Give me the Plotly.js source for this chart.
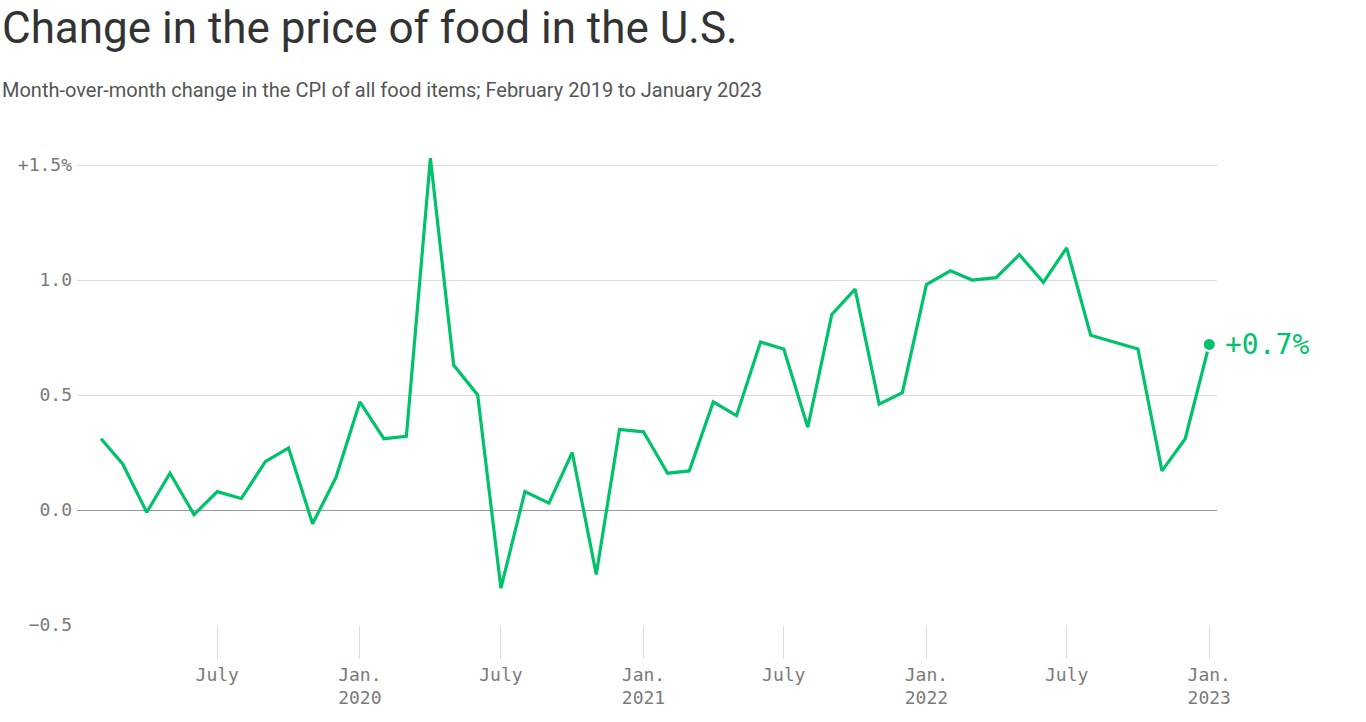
<!DOCTYPE html>
<html>
<head>
<meta charset="utf-8">
<script src="https://cdn.plot.ly/plotly-3.0.1.min.js"></script>
<style>
html,body{margin:0;padding:0;background:#fff;}
#chart{width:1366px;height:722px;}
</style>
</head>
<body>
<div id="chart"></div>
<script>
const months = [
  '2019-02-01','2019-03-01','2019-04-01','2019-05-01','2019-06-01','2019-07-01','2019-08-01','2019-09-01','2019-10-01','2019-11-01','2019-12-01',
  '2020-01-01','2020-02-01','2020-03-01','2020-04-01','2020-05-01','2020-06-01','2020-07-01','2020-08-01','2020-09-01','2020-10-01','2020-11-01','2020-12-01',
  '2021-01-01','2021-02-01','2021-03-01','2021-04-01','2021-05-01','2021-06-01','2021-07-01','2021-08-01','2021-09-01','2021-10-01','2021-11-01','2021-12-01',
  '2022-01-01','2022-02-01','2022-03-01','2022-04-01','2022-05-01','2022-06-01','2022-07-01','2022-08-01','2022-09-01','2022-10-01','2022-11-01','2022-12-01',
  '2023-01-01'
];
const foodChange = [
  0.31, 0.20, -0.01, 0.16, -0.02, 0.08, 0.05, 0.21, 0.27, -0.06, 0.14,
  0.47, 0.31, 0.32, 1.53, 0.63, 0.50, -0.34, 0.08, 0.03, 0.25, -0.28, 0.35,
  0.34, 0.16, 0.17, 0.47, 0.41, 0.73, 0.70, 0.36, 0.85, 0.96, 0.46, 0.51,
  0.98, 1.04, 1.00, 1.01, 1.11, 0.99, 1.14, 0.76, 0.73, 0.70, 0.17, 0.31,
  0.72
];
const xTickVals = ['2019-07-01','2020-01-01','2020-07-01','2021-01-01','2021-07-01','2022-01-01','2022-07-01','2023-01-01'];
const xTickText = ['July','Jan.<br>2020','July','Jan.<br>2021','July','Jan.<br>2022','July','Jan.<br>2023'];
const yTickVals = [-0.5, 0, 0.5, 1.0, 1.5];
const yTickText = ['\u22120.5','0.0','0.5','1.0','+1.5%'];
const lastLabel = '+0.7%';

const green = '#00c26a';
const mono = '"DejaVu Sans Mono", "Liberation Mono", monospace';
const sans = 'Roboto, "Noto Sans", sans-serif';
const n = months.length;

const traces = [
  {
    x: months, y: foodChange, type: 'scatter', mode: 'lines',
    line: {color: green, width: 3.2}, hoverinfo: 'skip'
  },
  {
    x: [months[n-1]], y: [foodChange[n-1]], type: 'scatter', mode: 'markers',
    marker: {color: green, size: 13, line: {color: '#fff', width: 2}}, hoverinfo: 'skip'
  }
];

const layout = {
  width: 1366, height: 722,
  paper_bgcolor: '#fff', plot_bgcolor: '#fff',
  showlegend: false,
  margin: {l: 77, r: 149, t: 142, b: 97},
  xaxis: {
    type: 'date',
    range: ['2019-01-01', '2023-01-11'],
    tickvals: xTickVals, ticktext: xTickText,
    showgrid: false, zeroline: false, showline: false,
    ticks: 'outside', ticklen: 33, tickcolor: '#dddddd', tickwidth: 1,
    tickfont: {family: mono, size: 18, color: '#7a7a7a'}
  },
  yaxis: {
    range: [-0.5, 1.6],
    tickvals: yTickVals, ticktext: yTickText,
    showgrid: true, gridcolor: '#dddddd', gridwidth: 1,
    zeroline: true, zerolinecolor: '#999999', zerolinewidth: 1,
    showline: false, ticks: '',
    ticklabelstandoff: 4,
    tickfont: {family: mono, size: 18, color: '#7a7a7a'}
  },
  annotations: [
    {
      text: 'Change in the price of food in the U.S.',
      xref: 'paper', yref: 'paper',
      x: -77/1140, y: 1 + (142-28)/483,
      xanchor: 'left', yanchor: 'middle', showarrow: false,
      font: {family: sans, size: 44, color: '#333333'}
    },
    {
      text: 'Month-over-month change in the CPI of all food items; February 2019 to January 2023',
      xref: 'paper', yref: 'paper',
      x: -77/1140, y: 1 + (142-90)/483,
      xanchor: 'left', yanchor: 'middle', showarrow: false,
      font: {family: sans, size: 20, color: '#555555'}
    },
    {
      x: months[n-1], y: foodChange[n-1], xref: 'x', yref: 'y',
      text: lastLabel, showarrow: false, xanchor: 'left', yanchor: 'middle',
      xshift: 14, font: {family: mono, size: 28, color: green}
    }
  ]
};

Plotly.newPlot('chart', traces, layout, {displayModeBar: false, staticPlot: true});
</script>
</body>
</html>
